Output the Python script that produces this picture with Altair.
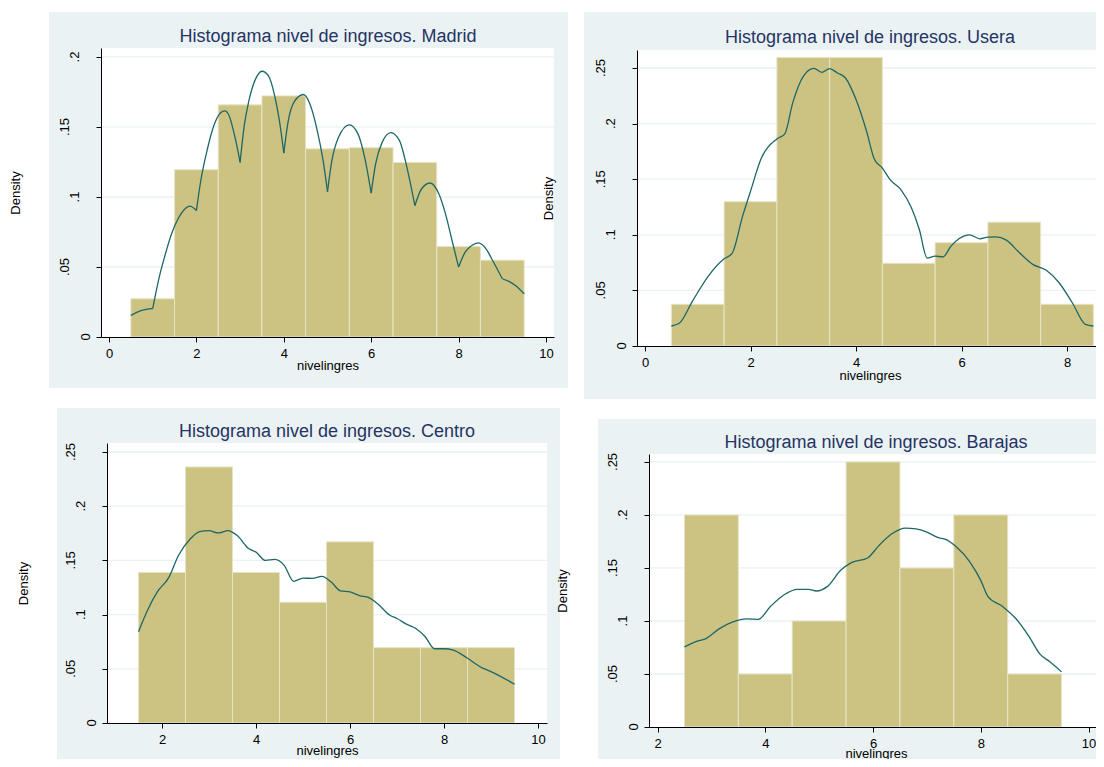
import altair as alt
import pandas as pd

FONT = "Liberation Sans"
PANEL_BG = "#EAF2F3"
GRID = "#EAF2F3"
BAR_FILL = "#CCC383"
BAR_LINE = "#E7E4C6"
KDE_COLOR = "#1E6767"
TITLE_COLOR = "#263463"

# ---------------- data ----------------
madrid_bins = [1, 2, 3, 4, 5, 6, 7, 8, 9]
madrid_density = [0.0273, 0.1195, 0.1658, 0.1722, 0.1344, 0.1352, 0.1247, 0.0646, 0.0549]
madrid_kde_x = [0.5, 0.75, 1.0, 1.15, 1.27, 1.43, 1.6, 1.76, 1.85, 2.0,
                2.1, 2.25, 2.4, 2.55, 2.65, 2.75, 2.85, 2.95, 3.0,
                3.1, 3.2, 3.35, 3.5, 3.65, 3.8, 3.9, 4.0,
                4.1, 4.25, 4.45, 4.6, 4.75, 4.9, 5.0,
                5.1, 5.25, 5.5, 5.7, 5.85, 6.0,
                6.1, 6.25, 6.45, 6.65, 6.8, 6.9, 7.0,
                7.15, 7.35, 7.55, 7.7, 7.85, 8.0,
                8.15, 8.3, 8.45, 8.6, 8.8, 9.0,
                9.15, 9.3, 9.5]
madrid_kde_y = [0.0154, 0.0190, 0.0202, 0.0428, 0.0570, 0.0736, 0.0855, 0.0922, 0.0934, 0.0903,
                0.1116, 0.1340, 0.1510, 0.1600, 0.1615, 0.1580, 0.1470, 0.1330, 0.1247,
                0.1520, 0.1686, 0.1840, 0.1898, 0.1865, 0.1710, 0.1544, 0.1313,
                0.1540, 0.1686, 0.1732, 0.1663, 0.1496, 0.1259, 0.1038,
                0.1259, 0.1425, 0.1515, 0.1449, 0.1283, 0.1028,
                0.1235, 0.1390, 0.1460, 0.1401, 0.1235, 0.1093, 0.0938,
                0.1057, 0.1100, 0.1021, 0.0879, 0.0689, 0.0499,
                0.0606, 0.0653, 0.0672, 0.0641, 0.0534, 0.0416,
                0.0397, 0.0368, 0.0309]
madrid_cusps = [1.0, 2.0, 3.0, 4.0, 5.0, 6.0, 7.0, 8.0, 9.0]

usera_bins = [1, 2, 3, 4, 5, 6, 7, 8]
usera_density = [0.0375, 0.1298, 0.2595, 0.2595, 0.0744, 0.0929, 0.1114, 0.0375]
usera_kde_x = [0.5, 0.65, 0.9, 1.2, 1.5, 1.65, 1.85, 2.0, 2.2, 2.5, 2.65, 2.8, 3.0, 3.2,
               3.35, 3.5, 3.65, 3.8, 4.0, 4.2, 4.35, 4.5, 4.65, 4.85, 5.05, 5.2, 5.35,
               5.5, 5.65, 5.8, 5.95, 6.15, 6.35, 6.5, 6.65, 6.85, 7.1, 7.35, 7.6, 7.85,
               8.1, 8.35, 8.5]
usera_kde_y = [0.0180, 0.0204, 0.0404, 0.0629, 0.0784, 0.0832, 0.1168, 0.1392, 0.1683, 0.1862,
               0.1907, 0.2186, 0.2425, 0.2497, 0.2461, 0.2494, 0.2455, 0.2410, 0.2216, 0.1931,
               0.1677, 0.1600, 0.1494, 0.1407, 0.1243, 0.1048, 0.0790, 0.0808, 0.0802, 0.0898,
               0.0964, 0.1000, 0.0964, 0.0979, 0.0982, 0.0952, 0.0838, 0.0734, 0.0683, 0.0569,
               0.0389, 0.0195, 0.0180]

centro_bins = [2, 3, 4, 5, 6, 7, 8, 9]
centro_density = [0.1389, 0.2362, 0.1389, 0.1114, 0.1671, 0.0695, 0.0695, 0.0695]
centro_kde_x = [1.5, 1.7, 1.9, 2.15, 2.35, 2.6, 2.8, 3.0, 3.2, 3.4,
                3.6, 3.85, 4.0, 4.2, 4.4, 4.6, 4.8, 5.0, 5.2, 5.4,
                5.6, 5.8, 6.0, 6.2, 6.4, 6.6, 6.85, 7.0, 7.2, 7.4,
                7.6, 7.8, 8.0, 8.2, 8.5, 8.8, 9.0, 9.25, 9.5]
centro_kde_y = [0.0841, 0.1047, 0.1209, 0.1346, 0.1545, 0.1698, 0.1766, 0.1775, 0.1753, 0.1775,
                0.1729, 0.1607, 0.1576, 0.1500, 0.1509, 0.1454, 0.1307, 0.1337, 0.1334, 0.1352,
                0.1300, 0.1218, 0.1209, 0.1175, 0.1157, 0.1095, 0.0994, 0.0964, 0.0912, 0.0872,
                0.0796, 0.0685, 0.0685, 0.0673, 0.0597, 0.0511, 0.0474, 0.0419, 0.0358]

barajas_bins = [3, 4, 5, 6, 7, 8, 9]
barajas_density = [0.20, 0.05, 0.10, 0.25, 0.15, 0.20, 0.05]
barajas_kde_x = [2.5, 2.75, 2.9, 3.15, 3.4, 3.65, 3.87, 4.1, 4.35, 4.6,
                 4.8, 4.95, 5.15, 5.4, 5.6, 5.9, 6.1, 6.35, 6.6, 6.8,
                 7.0, 7.2, 7.35, 7.55, 7.8, 8.0, 8.13, 8.4, 8.65, 8.9,
                 9.1, 9.3, 9.5]
barajas_kde_y = [0.0756, 0.0812, 0.0834, 0.0928, 0.0991, 0.1019, 0.1016, 0.1139, 0.1248, 0.1299,
                 0.1299, 0.1283, 0.1324, 0.1478, 0.1550, 0.1594, 0.1706, 0.1822, 0.1876, 0.1869,
                 0.1838, 0.1788, 0.1769, 0.1697, 0.1556, 0.1383, 0.1233, 0.1139, 0.1023, 0.0850,
                 0.0687, 0.0609, 0.0520]

ticks_x_0_10 = [0, 2, 4, 6, 8, 10]
ticks_x_0_8 = [0, 2, 4, 6, 8]
ticks_x_2_10 = [2, 4, 6, 8, 10]
ticks_y_20 = [0, 0.05, 0.1, 0.15, 0.2]
labels_y_20 = ["0", ".05", ".1", ".15", ".2"]
ticks_y_25 = [0, 0.05, 0.1, 0.15, 0.2, 0.25]
labels_y_25 = ["0", ".05", ".1", ".15", ".2", ".25"]

# ---------------- layout (pixels, relative to each panel's origin) ----------------
LAYOUT = {
    "Madrid": dict(W=447, H=287, xdom=[-0.183, 10.183], xrng=[-6, 447],
                   ydom=[0, 0.2064], yrng=[287, -2], yoff=6, ax=-6,
                   bg=(-58, 461, -38, 338), plot=(-6, 447, -2, 287),
                   title=(221, -8.3), ytitle=(-86, 142.5), xtitleY=28.7),
    "Usera": dict(W=454, H=296, xdom=[-0.152, 8.682], xrng=[-12, 454],
                  ydom=[0, 0.2662], yrng=[296, 0], yoff=12, ax=-12,
                  bg=(-65, 455, -38, 349), plot=(-12, 454, 0, 296),
                  title=(221, -7.3), ytitle=(-89, 148), xtitleY=29.7),
    "Centro": dict(W=440, H=269, xdom=[0.830, 10.191], xrng=[0, 440],
                   ydom=[0, 0.2583], yrng=[269, -11], yoff=0, ax=0,
                   bg=(-50, 453, -46, 313), plot=(0, 440, -11, 269),
                   title=(220, -17.3), ytitle=(-84, 129), xtitleY=27.5),
    "Barajas": dict(W=454, H=273, xdom=[1.842, 10.269], xrng=[0, 454],
                    ydom=[0, 0.2575], yrng=[273, 0], yoff=0, ax=0,
                    bg=(-51, 455, -35, 313), plot=(0, 454, 0, 273),
                    title=(227, -5.7), ytitle=(-87, 136.5), xtitleY=26),
}


def build_panel(name, bins, density, kx, ky, cusps, xticks, yticks, ylabels):
    L = LAYOUT[name]
    xs = alt.Scale(domain=L["xdom"], range=L["xrng"], nice=False, zero=False)
    ys = alt.Scale(domain=L["ydom"], range=L["yrng"], nice=False, zero=False)
    xaxis = alt.Axis(values=xticks, format="d", grid=False, labelFontSize=13, labelFont=FONT,
                     labelColor="black", labelPadding=5, labelFlush=False, labelOverlap=False,
                     tickSize=5, tickColor="black", tickWidth=1, domainColor="black", domainWidth=1,
                     title="nivelingres", titleFont=FONT, titleFontSize=13, titleFontWeight="normal",
                     titleColor="black", titleY=L["xtitleY"], titleBaseline="middle", zindex=1)
    yaxis = alt.Axis(values=yticks, labels=False, grid=False, tickSize=5, tickColor="black",
                     tickWidth=1, domainColor="black", domainWidth=1, offset=L["yoff"],
                     title="Density", titleFont=FONT, titleFontSize=13, titleFontWeight="normal",
                     titleColor="black", titleAngle=270, titleAlign="center", titleBaseline="middle",
                     titleX=L["ytitle"][0], titleY=L["ytitle"][1], zindex=1)

    one = pd.DataFrame({"k": [0]})
    layers = []
    bx0, bx1, by0, by1 = L["bg"]
    layers.append(alt.Chart(one).mark_rect(color=PANEL_BG).encode(
        x=alt.value(bx0), x2=alt.value(bx1), y=alt.value(by0), y2=alt.value(by1)))
    px0, px1, py0, py1 = L["plot"]
    layers.append(alt.Chart(one).mark_rect(color="white").encode(
        x=alt.value(px0), x2=alt.value(px1), y=alt.value(py0), y2=alt.value(py1)))

    grid_df = pd.DataFrame({"v": [v for v in yticks if v > 0]})
    layers.append(alt.Chart(grid_df).mark_rule(color=GRID, strokeWidth=1.3).encode(
        y=alt.Y("v:Q", scale=ys, axis=yaxis), x=alt.value(px0), x2=alt.value(px1)))

    bars_df = pd.DataFrame({"lo": [b - 0.5 for b in bins],
                            "hi": [b + 0.5 for b in bins],
                            "d": density})
    layers.append(alt.Chart(bars_df).mark_rect(fill=BAR_FILL, stroke=BAR_LINE, strokeWidth=1).encode(
        x=alt.X("lo:Q", scale=xs, axis=xaxis), x2="hi:Q",
        y=alt.Y("d:Q", scale=ys, axis=yaxis), y2=alt.datum(0)))

    rows = []
    seg = 0
    for i, (x, y) in enumerate(zip(kx, ky)):
        rows.append({"x": x, "y": y, "seg": seg, "i": i})
        if x in cusps:
            seg += 1
            rows.append({"x": x, "y": y, "seg": seg, "i": i})
    kde_df = pd.DataFrame(rows)
    layers.append(alt.Chart(kde_df).mark_line(color=KDE_COLOR, strokeWidth=1.3, interpolate="monotone").encode(
        x=alt.X("x:Q", scale=xs, axis=xaxis), y=alt.Y("y:Q", scale=ys, axis=yaxis),
        detail="seg:N", order="i:Q"))

    lab_df = pd.DataFrame({"v": yticks, "lab": ylabels})
    layers.append(alt.Chart(lab_df).transform_calculate(
        px=f"{L['ax']} - 5 - 10.5 * length(datum.lab)"
    ).mark_text(angle=270, align="center", baseline="middle", fontSize=13, font=FONT, color="black").encode(
        x=alt.X("px:Q", scale=None), y=alt.Y("v:Q", scale=ys, axis=yaxis), text="lab:N"))

    tx, ty = L["title"]
    layers.append(alt.Chart(one).mark_text(text=f"Histograma nivel de ingresos. {name}", fontSize=18,
                                           font=FONT, color=TITLE_COLOR, align="center",
                                           baseline="alphabetic").encode(
        x=alt.value(tx), y=alt.value(ty)))

    return alt.layer(*layers).properties(width=L["W"], height=L["H"])


madrid = build_panel("Madrid", madrid_bins, madrid_density, madrid_kde_x, madrid_kde_y, madrid_cusps,
                     ticks_x_0_10, ticks_y_20, labels_y_20)
usera = build_panel("Usera", usera_bins, usera_density, usera_kde_x, usera_kde_y, [],
                    ticks_x_0_8, ticks_y_25, labels_y_25)
centro = build_panel("Centro", centro_bins, centro_density, centro_kde_x, centro_kde_y, [],
                     ticks_x_2_10, ticks_y_25, labels_y_25)
barajas = build_panel("Barajas", barajas_bins, barajas_density, barajas_kde_x, barajas_kde_y, [],
                      ticks_x_2_10, ticks_y_25, labels_y_25)

# whole picture: 1088 x 751 px, Madrid panel origin at (99, 42) inside it
chart = alt.concat(madrid, usera, centro, barajas, columns=2,
                   spacing={"row": 108, "column": 95}, bounds="flush", align="each").properties(
    autosize=alt.AutoSizeParams(type="none"),
    padding={"left": 99, "top": 42, "right": 989, "bottom": 709},
    background="white"
).configure_view(strokeWidth=0)

chart.save("out.html", embed_options={"renderer": "svg", "actions": False})
